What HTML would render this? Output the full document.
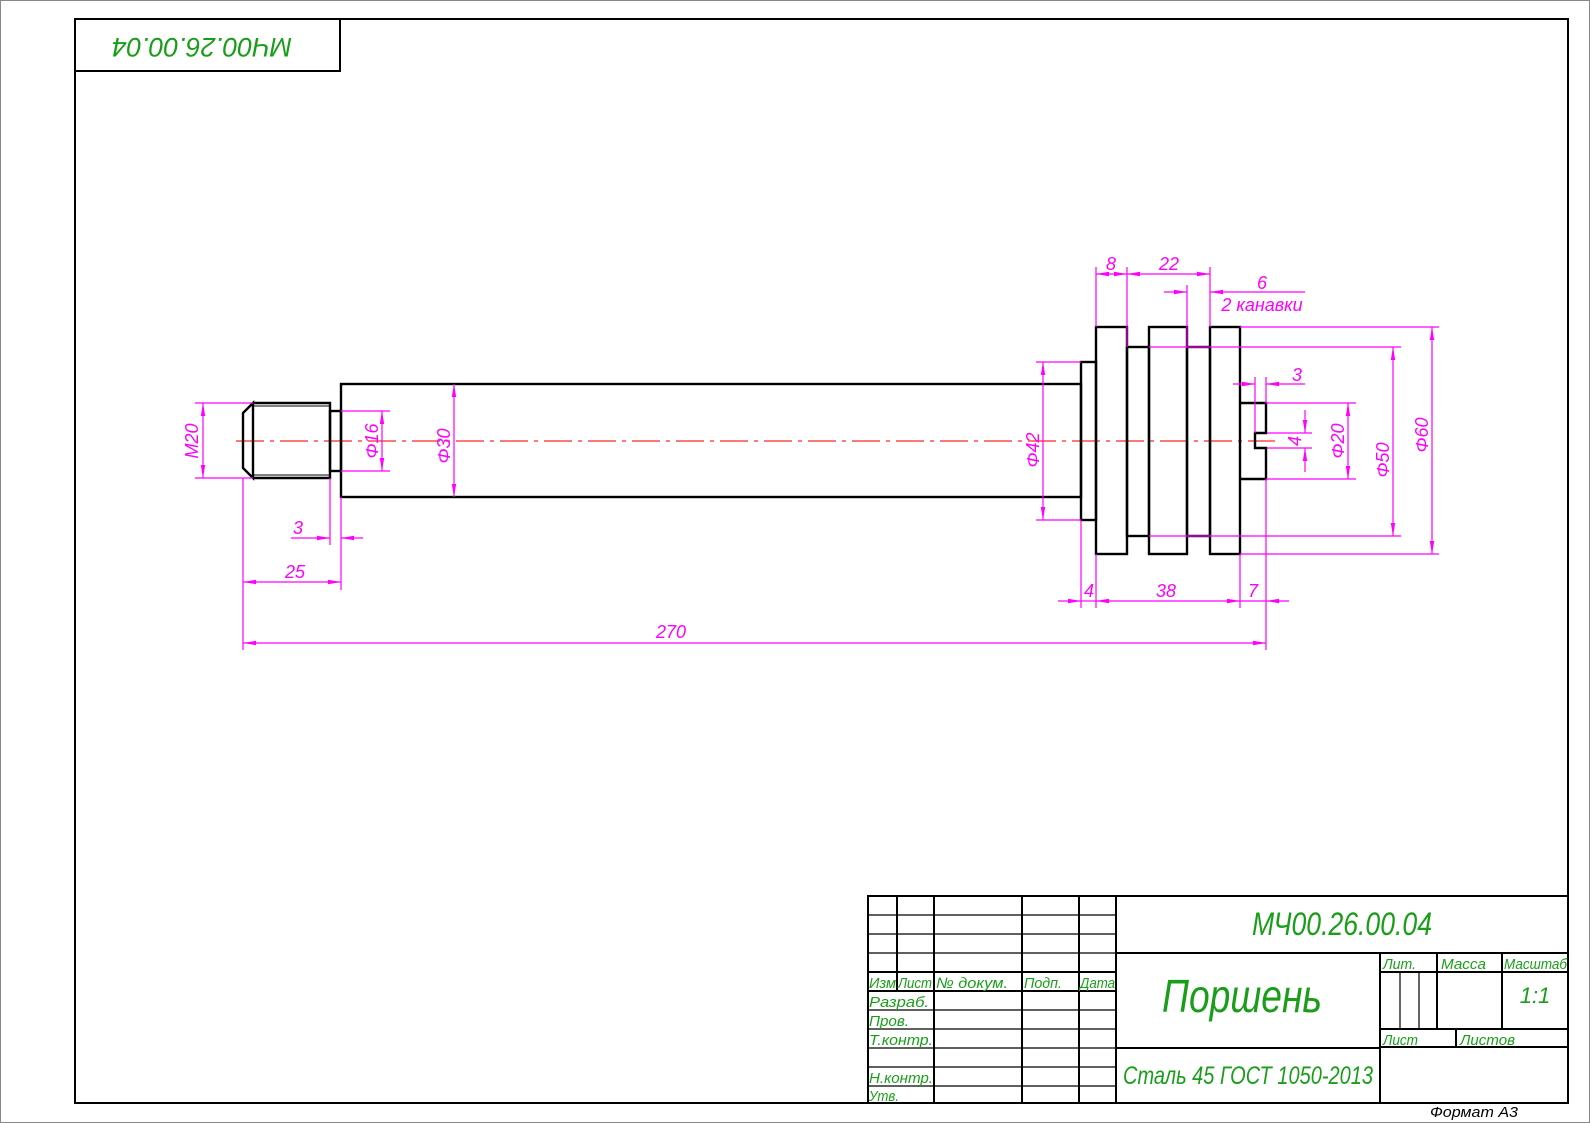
<!DOCTYPE html>
<html><head><meta charset="utf-8"><style>
html,body{margin:0;padding:0;background:#fff}
svg{display:block}
text{font-family:"Liberation Sans","DejaVu Sans",sans-serif;font-style:italic}
.g{fill:#1a9e1a}
.m{fill:#ff00ff}
</style></head><body>
<svg width="1590" height="1123" viewBox="0 0 1590 1123" xmlns="http://www.w3.org/2000/svg">
<defs>
<marker id="a" markerWidth="14" markerHeight="6" refX="13" refY="3" orient="auto-start-reverse" markerUnits="userSpaceOnUse">
<path d="M0,0.8 L13,3 L0,5.2 Z" fill="#ff00ff"/></marker>
</defs>
<rect x="0.5" y="0.5" width="1589" height="1122" fill="none" stroke="#888" stroke-width="1"/>
<rect x="75" y="19" width="1493" height="1084" fill="none" stroke="#000" stroke-width="2"/>
<rect x="75" y="19" width="265" height="52" fill="none" stroke="#000" stroke-width="2"/>
<text class="g" transform="translate(202,45) rotate(180)" font-size="27" text-anchor="middle" dominant-baseline="middle" textLength="180" lengthAdjust="spacingAndGlyphs">МЧ00.26.00.04</text>

<line x1="236" y1="441" x2="1275" y2="441" stroke="#ff4a4a" stroke-width="1.5" stroke-dasharray="28,6,4,6"/>

<g stroke="#000" stroke-width="2.4" fill="none">
<path d="M253,403 L243,413 L243,468 L253,478 Z"/>
<path d="M253,403 H330 V478 H253"/>
<line x1="253" y1="406" x2="330" y2="406" stroke-width="1"/>
<line x1="253" y1="475" x2="330" y2="475" stroke-width="1"/>
<rect x="330" y="411" width="11" height="60"/>
<rect x="341" y="384" width="740" height="113"/>
<rect x="1081" y="362" width="15" height="158"/>
<rect x="1096" y="327" width="31" height="227"/>
<rect x="1127" y="347" width="22" height="189"/>
<rect x="1149" y="327" width="38" height="227"/>
<rect x="1187" y="347" width="23" height="189"/>
<rect x="1210" y="327" width="30" height="227"/>
<path d="M1240,403 H1266 V433 H1255 V448 H1266 V479 H1240"/>
</g>

<g stroke="#ff00ff" stroke-width="1.2" fill="none">
<line x1="195" y1="403" x2="253" y2="403"/><line x1="195" y1="478" x2="253" y2="478"/>
<line x1="203" y1="403" x2="203" y2="478" marker-start="url(#a)" marker-end="url(#a)"/>
<line x1="341" y1="411" x2="390" y2="411"/><line x1="341" y1="471" x2="390" y2="471"/>
<line x1="382" y1="411" x2="382" y2="471" marker-start="url(#a)" marker-end="url(#a)"/>
<line x1="454" y1="384" x2="454" y2="497" marker-start="url(#a)" marker-end="url(#a)"/>
<line x1="243" y1="478" x2="243" y2="650"/>
<line x1="330" y1="478" x2="330" y2="545"/>
<line x1="341" y1="497" x2="341" y2="590"/>
<line x1="291" y1="538" x2="330" y2="538" marker-end="url(#a)"/>
<line x1="363" y1="538" x2="341" y2="538" marker-end="url(#a)"/>
<line x1="243" y1="582" x2="341" y2="582" marker-start="url(#a)" marker-end="url(#a)"/>
<line x1="243" y1="643" x2="1266" y2="643" marker-start="url(#a)" marker-end="url(#a)"/>
<line x1="1036" y1="362" x2="1081" y2="362"/><line x1="1036" y1="520" x2="1081" y2="520"/>
<line x1="1043" y1="362" x2="1043" y2="520" marker-start="url(#a)" marker-end="url(#a)"/>
<line x1="1096" y1="267" x2="1096" y2="327"/>
<line x1="1127" y1="267" x2="1127" y2="347"/>
<line x1="1210" y1="267" x2="1210" y2="327"/>
<line x1="1187" y1="285" x2="1187" y2="347"/>
<line x1="1096" y1="274" x2="1127" y2="274" marker-start="url(#a)" marker-end="url(#a)"/>
<line x1="1127" y1="274" x2="1210" y2="274" marker-start="url(#a)" marker-end="url(#a)"/>
<line x1="1164" y1="292" x2="1187" y2="292" marker-end="url(#a)"/>
<line x1="1305" y1="292" x2="1210" y2="292" marker-end="url(#a)"/>
<line x1="1240" y1="327" x2="1439" y2="327"/>
<line x1="1240" y1="554" x2="1439" y2="554"/>
<line x1="1149" y1="347" x2="1401" y2="347"/>
<line x1="1149" y1="536" x2="1401" y2="536"/>
<line x1="1266" y1="403" x2="1356" y2="403"/>
<line x1="1266" y1="479" x2="1356" y2="479"/>
<line x1="1267" y1="433" x2="1312" y2="433"/>
<line x1="1267" y1="448" x2="1312" y2="448"/>
<line x1="1432" y1="327" x2="1432" y2="554" marker-start="url(#a)" marker-end="url(#a)"/>
<line x1="1393" y1="347" x2="1393" y2="536" marker-start="url(#a)" marker-end="url(#a)"/>
<line x1="1348" y1="403" x2="1348" y2="479" marker-start="url(#a)" marker-end="url(#a)"/>
<line x1="1305" y1="410" x2="1305" y2="433" marker-end="url(#a)"/>
<line x1="1305" y1="472" x2="1305" y2="448" marker-end="url(#a)"/>
<line x1="1255" y1="377" x2="1255" y2="433"/>
<line x1="1266" y1="377" x2="1266" y2="403"/>
<line x1="1233" y1="384" x2="1255" y2="384" marker-end="url(#a)"/>
<line x1="1305" y1="384" x2="1266" y2="384" marker-end="url(#a)"/>
<line x1="1081" y1="520" x2="1081" y2="608"/>
<line x1="1096" y1="554" x2="1096" y2="608"/>
<line x1="1240" y1="554" x2="1240" y2="608"/>
<line x1="1266" y1="479" x2="1266" y2="650"/>
<line x1="1058" y1="601" x2="1081" y2="601" marker-end="url(#a)"/>
<line x1="1096" y1="601" x2="1240" y2="601" marker-start="url(#a)" marker-end="url(#a)"/>
<line x1="1081" y1="601" x2="1096" y2="601"/>
<line x1="1289" y1="601" x2="1266" y2="601" marker-end="url(#a)"/>
<line x1="1240" y1="601" x2="1266" y2="601"/>
</g>

<g class="m" font-size="18">
<text transform="translate(198,441) rotate(-90)" text-anchor="middle">M20</text>
<text transform="translate(378,441) rotate(-90)" text-anchor="middle">Φ16</text>
<text transform="translate(450,446) rotate(-90)" text-anchor="middle">Φ30</text>
<text transform="translate(1039,450) rotate(-90)" text-anchor="middle">Φ42</text>
<text transform="translate(1301,441) rotate(-90)" text-anchor="middle">4</text>
<text transform="translate(1344,441) rotate(-90)" text-anchor="middle">Φ20</text>
<text transform="translate(1389,460) rotate(-90)" text-anchor="middle">Φ50</text>
<text transform="translate(1428,435) rotate(-90)" text-anchor="middle">Φ60</text>
<text x="298" y="534" text-anchor="middle">3</text>
<text x="295" y="578" text-anchor="middle">25</text>
<text x="671" y="638" text-anchor="middle">270</text>
<text x="1111" y="270" text-anchor="middle">8</text>
<text x="1169" y="270" text-anchor="middle">22</text>
<text x="1262" y="289" text-anchor="middle">6</text>
<text x="1262" y="311" text-anchor="middle">2 канавки</text>
<text x="1297" y="381" text-anchor="middle">3</text>
<text x="1089" y="597" text-anchor="middle">4</text>
<text x="1166" y="597" text-anchor="middle">38</text>
<text x="1253" y="597" text-anchor="middle">7</text>
</g>

<g stroke="#000" fill="none">
<rect x="868" y="896" width="700" height="207" stroke-width="2"/>
<g stroke-width="1.2">
<line x1="868" y1="915" x2="1116" y2="915"/>
<line x1="868" y1="934" x2="1116" y2="934"/>
<line x1="868" y1="953" x2="1116" y2="953"/>
<line x1="868" y1="1010" x2="1116" y2="1010"/>
<line x1="868" y1="1029" x2="1116" y2="1029"/>
<line x1="868" y1="1048" x2="1116" y2="1048"/>
<line x1="868" y1="1067" x2="1116" y2="1067"/>
<line x1="868" y1="1086" x2="1116" y2="1086"/>
<line x1="1400" y1="972" x2="1400" y2="1029"/>
<line x1="1419" y1="972" x2="1419" y2="1029"/>
</g>
<g stroke-width="2">
<line x1="868" y1="972" x2="1116" y2="972"/>
<line x1="868" y1="991" x2="1116" y2="991"/>
<line x1="897" y1="896" x2="897" y2="991"/>
<line x1="934" y1="896" x2="934" y2="1103"/>
<line x1="1022" y1="896" x2="1022" y2="1103"/>
<line x1="1079" y1="896" x2="1079" y2="1103"/>
<line x1="1116" y1="896" x2="1116" y2="1103"/>
<line x1="1116" y1="953" x2="1568" y2="953"/>
<line x1="1116" y1="1048" x2="1380" y2="1048"/>
<line x1="1380" y1="953" x2="1380" y2="1103"/>
<line x1="1380" y1="972" x2="1568" y2="972"/>
<line x1="1437" y1="953" x2="1437" y2="1029"/>
<line x1="1502" y1="953" x2="1502" y2="1029"/>
<line x1="1380" y1="1029" x2="1568" y2="1029"/>
<line x1="1380" y1="1047" x2="1568" y2="1047"/>
<line x1="1456" y1="1029" x2="1456" y2="1047"/>
</g>
</g>
<g class="g">
<text x="1342" y="935" font-size="32" text-anchor="middle" textLength="180" lengthAdjust="spacingAndGlyphs">МЧ00.26.00.04</text>
<text x="1242" y="1012" font-size="46" text-anchor="middle" textLength="160" lengthAdjust="spacingAndGlyphs">Поршень</text>
<text x="1248" y="1084" font-size="25" text-anchor="middle" textLength="250" lengthAdjust="spacingAndGlyphs">Сталь 45 ГОСТ 1050-2013</text>
<text x="1535" y="1003" font-size="22" text-anchor="middle">1:1</text>
<g font-size="15">
<text x="869" y="988" textLength="27" lengthAdjust="spacingAndGlyphs">Изм</text>
<text x="898" y="988" textLength="34" lengthAdjust="spacingAndGlyphs">Лист</text>
<text x="936" y="988" textLength="72" lengthAdjust="spacingAndGlyphs">№ докум.</text>
<text x="1024" y="988" textLength="38" lengthAdjust="spacingAndGlyphs">Подп.</text>
<text x="1080" y="988" textLength="35" lengthAdjust="spacingAndGlyphs">Дата</text>
<text x="869" y="1007" textLength="60" lengthAdjust="spacingAndGlyphs">Разраб.</text>
<text x="869" y="1026" textLength="40" lengthAdjust="spacingAndGlyphs">Пров.</text>
<text x="869" y="1045" textLength="64" lengthAdjust="spacingAndGlyphs">Т.контр.</text>
<text x="869" y="1083" textLength="64" lengthAdjust="spacingAndGlyphs">Н.контр.</text>
<text x="869" y="1101" textLength="30" lengthAdjust="spacingAndGlyphs">Утв.</text>
<text x="1383" y="969" textLength="33" lengthAdjust="spacingAndGlyphs">Лит.</text>
<text x="1441" y="969" textLength="45" lengthAdjust="spacingAndGlyphs">Масса</text>
<text x="1504" y="969" textLength="63" lengthAdjust="spacingAndGlyphs">Масштаб</text>
<text x="1383" y="1045" textLength="35" lengthAdjust="spacingAndGlyphs">Лист</text>
<text x="1460" y="1045" textLength="55" lengthAdjust="spacingAndGlyphs">Листов</text>
</g>
</g>
<text x="1430" y="1117" font-size="15" fill="#000" textLength="88" lengthAdjust="spacingAndGlyphs">Формат А3</text>
</svg>
</body></html>
